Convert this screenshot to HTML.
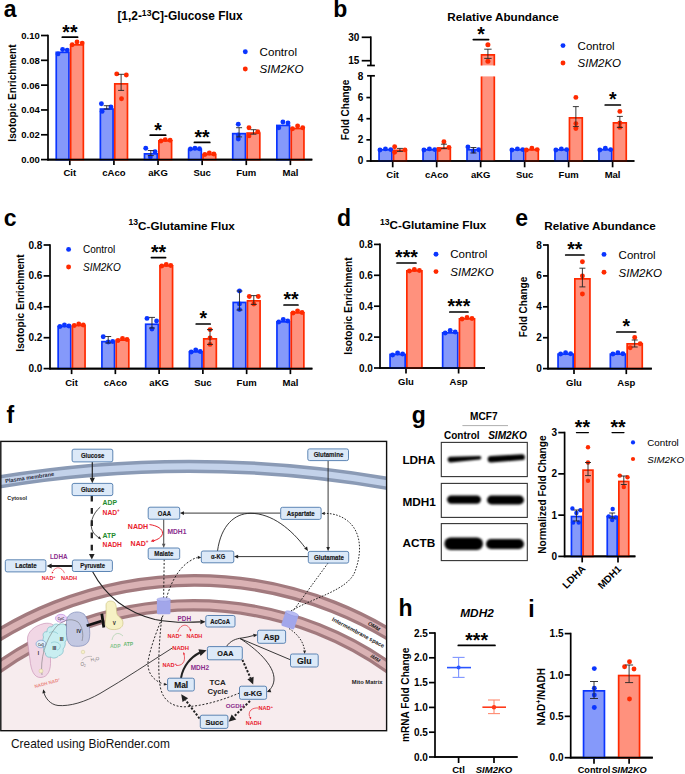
<!DOCTYPE html>
<html><head><meta charset="utf-8"><style>
html,body{margin:0;padding:0;background:#fff;}
svg{display:block;font-family:"Liberation Sans", sans-serif;}
</style></head><body>
<svg width="685" height="774" viewBox="0 0 685 774">
<defs><filter id="blur1" x="-20%" y="-50%" width="140%" height="200%"><feGaussianBlur stdDeviation="0.8"/></filter></defs>
<rect width="685" height="774" fill="#fff"/>
<text x="3.8" y="17" font-size="23" font-weight="bold" font-style="normal" text-anchor="start" fill="#000">a</text>
<text x="180" y="20" font-size="11.9" font-weight="bold" text-anchor="middle">[1,2-<tspan font-size="8.6" dy="-4.2">13</tspan><tspan dy="4.2">C]-Glucose Flux</tspan></text>
<line x1="48" y1="34.65" x2="48" y2="160.45" stroke="#000" stroke-width="1.7"/>
<line x1="41" y1="159.6" x2="48" y2="159.6" stroke="#000" stroke-width="1.7"/>
<text x="39.8" y="163.0" font-size="9.5" font-weight="bold" font-style="normal" text-anchor="end" fill="#000">0.00</text>
<line x1="41" y1="134.78" x2="48" y2="134.78" stroke="#000" stroke-width="1.7"/>
<text x="39.8" y="138.18" font-size="9.5" font-weight="bold" font-style="normal" text-anchor="end" fill="#000">0.02</text>
<line x1="41" y1="109.96" x2="48" y2="109.96" stroke="#000" stroke-width="1.7"/>
<text x="39.8" y="113.36" font-size="9.5" font-weight="bold" font-style="normal" text-anchor="end" fill="#000">0.04</text>
<line x1="41" y1="85.13999999999999" x2="48" y2="85.13999999999999" stroke="#000" stroke-width="1.7"/>
<text x="39.8" y="88.53999999999999" font-size="9.5" font-weight="bold" font-style="normal" text-anchor="end" fill="#000">0.06</text>
<line x1="41" y1="60.31999999999999" x2="48" y2="60.31999999999999" stroke="#000" stroke-width="1.7"/>
<text x="39.8" y="63.71999999999999" font-size="9.5" font-weight="bold" font-style="normal" text-anchor="end" fill="#000">0.08</text>
<line x1="41" y1="35.5" x2="48" y2="35.5" stroke="#000" stroke-width="1.7"/>
<text x="39.8" y="38.9" font-size="9.5" font-weight="bold" font-style="normal" text-anchor="end" fill="#000">0.10</text>
<line x1="48" y1="159.6" x2="312.3" y2="159.6" stroke="#000" stroke-width="1.7"/>
<line x1="69.8" y1="159.6" x2="69.8" y2="165.1" stroke="#000" stroke-width="1.7"/>
<text x="69.8" y="176.4" font-size="9.5" font-weight="bold" font-style="normal" text-anchor="middle" fill="#000">Cit</text>
<line x1="113.91999999999999" y1="159.6" x2="113.91999999999999" y2="165.1" stroke="#000" stroke-width="1.7"/>
<text x="113.91999999999999" y="176.4" font-size="9.5" font-weight="bold" font-style="normal" text-anchor="middle" fill="#000">cAco</text>
<line x1="158.04" y1="159.6" x2="158.04" y2="165.1" stroke="#000" stroke-width="1.7"/>
<text x="158.04" y="176.4" font-size="9.5" font-weight="bold" font-style="normal" text-anchor="middle" fill="#000">aKG</text>
<line x1="202.15999999999997" y1="159.6" x2="202.15999999999997" y2="165.1" stroke="#000" stroke-width="1.7"/>
<text x="202.15999999999997" y="176.4" font-size="9.5" font-weight="bold" font-style="normal" text-anchor="middle" fill="#000">Suc</text>
<line x1="246.27999999999997" y1="159.6" x2="246.27999999999997" y2="165.1" stroke="#000" stroke-width="1.7"/>
<text x="246.27999999999997" y="176.4" font-size="9.5" font-weight="bold" font-style="normal" text-anchor="middle" fill="#000">Fum</text>
<line x1="290.4" y1="159.6" x2="290.4" y2="165.1" stroke="#000" stroke-width="1.7"/>
<text x="290.4" y="176.4" font-size="9.5" font-weight="bold" font-style="normal" text-anchor="middle" fill="#000">Mal</text>
<text x="15.8" y="93" font-size="10.15" font-weight="bold" font-style="normal" text-anchor="middle" fill="#000" transform="rotate(-90 15.8 93)">Isotopic Enrichment</text>
<rect x="56.25" y="52.35" width="12.70" height="107.25" fill="#8599fa" stroke="#0a35ff" stroke-width="1.7"/>
<rect x="70.65" y="44.85" width="12.70" height="114.75" fill="#ff917d" stroke="#ff2a00" stroke-width="1.7"/>
<rect x="100.37" y="109.05" width="12.70" height="50.55" fill="#8599fa" stroke="#0a35ff" stroke-width="1.7"/>
<rect x="114.77" y="83.85" width="12.70" height="75.75" fill="#ff917d" stroke="#ff2a00" stroke-width="1.7"/>
<rect x="144.49" y="153.85" width="12.70" height="5.75" fill="#8599fa" stroke="#0a35ff" stroke-width="1.7"/>
<rect x="158.89" y="140.85" width="12.70" height="18.75" fill="#ff917d" stroke="#ff2a00" stroke-width="1.7"/>
<rect x="188.61" y="149.35" width="12.70" height="10.25" fill="#8599fa" stroke="#0a35ff" stroke-width="1.7"/>
<rect x="203.01" y="154.55" width="12.70" height="5.05" fill="#ff917d" stroke="#ff2a00" stroke-width="1.7"/>
<rect x="232.73" y="133.65" width="12.70" height="25.95" fill="#8599fa" stroke="#0a35ff" stroke-width="1.7"/>
<rect x="247.13" y="133.05" width="12.70" height="26.55" fill="#ff917d" stroke="#ff2a00" stroke-width="1.7"/>
<rect x="276.85" y="125.45" width="12.70" height="34.15" fill="#8599fa" stroke="#0a35ff" stroke-width="1.7"/>
<rect x="291.25" y="128.55" width="12.70" height="31.05" fill="#ff917d" stroke="#ff2a00" stroke-width="1.7"/>
<circle cx="58.00" cy="53.90" r="2.45" fill="#0a35ff"/>
<circle cx="62.60" cy="49.50" r="2.45" fill="#0a35ff"/>
<circle cx="67.20" cy="50.10" r="2.45" fill="#0a35ff"/>
<circle cx="72.20" cy="44.80" r="2.45" fill="#ff2a00"/>
<circle cx="77.00" cy="41.90" r="2.45" fill="#ff2a00"/>
<circle cx="82.20" cy="43.10" r="2.45" fill="#ff2a00"/>
<circle cx="101.42" cy="103.80" r="2.45" fill="#0a35ff"/>
<circle cx="110.92" cy="107.00" r="2.45" fill="#0a35ff"/>
<circle cx="102.12" cy="111.40" r="2.45" fill="#0a35ff"/>
<circle cx="116.72" cy="73.90" r="2.45" fill="#ff2a00"/>
<circle cx="126.32" cy="75.00" r="2.45" fill="#ff2a00"/>
<circle cx="121.52" cy="98.70" r="2.45" fill="#ff2a00"/>
<line x1="106.71999999999998" y1="105.7" x2="106.71999999999998" y2="109" stroke="#222" stroke-width="0.9"/>
<line x1="103.71999999999998" y1="105.7" x2="109.71999999999998" y2="105.7" stroke="#222" stroke-width="0.9"/>
<line x1="103.71999999999998" y1="109" x2="109.71999999999998" y2="109" stroke="#222" stroke-width="0.9"/>
<line x1="121.11999999999999" y1="74.3" x2="121.11999999999999" y2="90.4" stroke="#222" stroke-width="0.9"/>
<line x1="118.11999999999999" y1="74.3" x2="124.11999999999999" y2="74.3" stroke="#222" stroke-width="0.9"/>
<line x1="118.11999999999999" y1="90.4" x2="124.11999999999999" y2="90.4" stroke="#222" stroke-width="0.9"/>
<circle cx="145.74" cy="148.30" r="2.45" fill="#0a35ff"/>
<circle cx="155.04" cy="151.70" r="2.45" fill="#0a35ff"/>
<circle cx="150.34" cy="157.00" r="2.45" fill="#0a35ff"/>
<circle cx="160.94" cy="141.00" r="2.45" fill="#ff2a00"/>
<circle cx="165.24" cy="139.60" r="2.45" fill="#ff2a00"/>
<circle cx="170.14" cy="140.30" r="2.45" fill="#ff2a00"/>
<line x1="150.84" y1="150.5" x2="150.84" y2="155.6" stroke="#222" stroke-width="0.9"/>
<line x1="147.84" y1="150.5" x2="153.84" y2="150.5" stroke="#222" stroke-width="0.9"/>
<line x1="147.84" y1="155.6" x2="153.84" y2="155.6" stroke="#222" stroke-width="0.9"/>
<circle cx="190.46" cy="149.00" r="2.45" fill="#0a35ff"/>
<circle cx="194.96" cy="148.30" r="2.45" fill="#0a35ff"/>
<circle cx="199.46" cy="148.80" r="2.45" fill="#0a35ff"/>
<circle cx="204.86" cy="154.50" r="2.45" fill="#ff2a00"/>
<circle cx="209.36" cy="153.00" r="2.45" fill="#ff2a00"/>
<circle cx="213.86" cy="154.00" r="2.45" fill="#ff2a00"/>
<circle cx="238.28" cy="124.20" r="2.45" fill="#0a35ff"/>
<circle cx="238.28" cy="134.90" r="2.45" fill="#0a35ff"/>
<circle cx="238.28" cy="139.00" r="2.45" fill="#0a35ff"/>
<circle cx="248.98" cy="127.70" r="2.45" fill="#ff2a00"/>
<circle cx="248.98" cy="135.90" r="2.45" fill="#ff2a00"/>
<circle cx="257.78" cy="131.80" r="2.45" fill="#ff2a00"/>
<line x1="239.07999999999998" y1="127.7" x2="239.07999999999998" y2="136.9" stroke="#222" stroke-width="0.9"/>
<line x1="236.07999999999998" y1="127.7" x2="242.07999999999998" y2="127.7" stroke="#222" stroke-width="0.9"/>
<line x1="236.07999999999998" y1="136.9" x2="242.07999999999998" y2="136.9" stroke="#222" stroke-width="0.9"/>
<line x1="253.47999999999996" y1="129.7" x2="253.47999999999996" y2="134.2" stroke="#222" stroke-width="0.9"/>
<line x1="250.47999999999996" y1="129.7" x2="256.47999999999996" y2="129.7" stroke="#222" stroke-width="0.9"/>
<line x1="250.47999999999996" y1="134.2" x2="256.47999999999996" y2="134.2" stroke="#222" stroke-width="0.9"/>
<circle cx="278.80" cy="127.70" r="2.45" fill="#0a35ff"/>
<circle cx="282.90" cy="122.00" r="2.45" fill="#0a35ff"/>
<circle cx="288.00" cy="123.00" r="2.45" fill="#0a35ff"/>
<circle cx="292.50" cy="128.70" r="2.45" fill="#ff2a00"/>
<circle cx="297.60" cy="126.00" r="2.45" fill="#ff2a00"/>
<circle cx="302.70" cy="127.70" r="2.45" fill="#ff2a00"/>
<line x1="62.3" y1="37.2" x2="77.6" y2="37.2" stroke="#000" stroke-width="1.7" stroke-linecap="round"/>
<text x="69.94999999999999" y="38.5" font-size="19.5" font-weight="bold" font-style="normal" text-anchor="middle" fill="#000">**</text>
<line x1="150.2" y1="135.2" x2="165.7" y2="135.2" stroke="#000" stroke-width="1.7" stroke-linecap="round"/>
<text x="157.95" y="136.5" font-size="19.5" font-weight="bold" font-style="normal" text-anchor="middle" fill="#000">*</text>
<line x1="194.4" y1="142.4" x2="209.8" y2="142.4" stroke="#000" stroke-width="1.7" stroke-linecap="round"/>
<text x="202.10000000000002" y="143.7" font-size="19.5" font-weight="bold" font-style="normal" text-anchor="middle" fill="#000">**</text>
<circle cx="245.30" cy="51.70" r="2.45" fill="#0a35ff"/>
<circle cx="245.30" cy="69.00" r="2.45" fill="#ff2a00"/>
<text x="259.6" y="56.0" font-size="11.6" font-weight="normal" font-style="normal" text-anchor="start" fill="#000">Control</text>
<text x="259.6" y="73.3" font-size="11.6" font-weight="normal" font-style="italic" text-anchor="start" fill="#000">SIM2KO</text>
<text x="333.2" y="17" font-size="23" font-weight="bold" font-style="normal" text-anchor="start" fill="#000">b</text>
<text x="503" y="21.3" font-size="11.7" font-weight="bold" font-style="normal" text-anchor="middle" fill="#000">Relative Abundance</text>
<line x1="370.8" y1="36.4" x2="370.8" y2="65.5" stroke="#000" stroke-width="1.7"/>
<line x1="361.7" y1="37.3" x2="370.8" y2="37.3" stroke="#000" stroke-width="1.7"/>
<line x1="361.7" y1="60.7" x2="370.8" y2="60.7" stroke="#000" stroke-width="1.7"/>
<text x="359.4" y="40.7" font-size="10" font-weight="bold" font-style="normal" text-anchor="end" fill="#000">30</text>
<text x="359.4" y="64.1" font-size="10" font-weight="bold" font-style="normal" text-anchor="end" fill="#000">15</text>
<line x1="367.1" y1="65.5" x2="374.9" y2="65.5" stroke="#000" stroke-width="1.7"/>
<line x1="367.1" y1="75.8" x2="374.9" y2="75.8" stroke="#000" stroke-width="1.7"/>
<line x1="370.8" y1="75.8" x2="370.8" y2="161.85" stroke="#000" stroke-width="1.7"/>
<line x1="366.40000000000003" y1="161.0" x2="370.8" y2="161.0" stroke="#000" stroke-width="1.7"/>
<text x="363.3" y="164.4" font-size="10" font-weight="bold" font-style="normal" text-anchor="end" fill="#000">0</text>
<line x1="366.40000000000003" y1="139.85" x2="370.8" y2="139.85" stroke="#000" stroke-width="1.7"/>
<text x="363.3" y="143.25" font-size="10" font-weight="bold" font-style="normal" text-anchor="end" fill="#000">2</text>
<line x1="366.40000000000003" y1="118.7" x2="370.8" y2="118.7" stroke="#000" stroke-width="1.7"/>
<text x="363.3" y="122.10000000000001" font-size="10" font-weight="bold" font-style="normal" text-anchor="end" fill="#000">4</text>
<line x1="366.40000000000003" y1="97.55000000000001" x2="370.8" y2="97.55000000000001" stroke="#000" stroke-width="1.7"/>
<text x="363.3" y="100.95000000000002" font-size="10" font-weight="bold" font-style="normal" text-anchor="end" fill="#000">6</text>
<text x="363.3" y="79.80000000000001" font-size="10" font-weight="bold" font-style="normal" text-anchor="end" fill="#000">8</text>
<line x1="370.8" y1="161" x2="634.4" y2="161" stroke="#000" stroke-width="1.7"/>
<line x1="392.7" y1="161" x2="392.7" y2="167.3" stroke="#000" stroke-width="1.7"/>
<text x="392.7" y="177.6" font-size="9.5" font-weight="bold" font-style="normal" text-anchor="middle" fill="#000">Cit</text>
<line x1="436.68" y1="161" x2="436.68" y2="167.3" stroke="#000" stroke-width="1.7"/>
<text x="436.68" y="177.6" font-size="9.5" font-weight="bold" font-style="normal" text-anchor="middle" fill="#000">cAco</text>
<line x1="480.65999999999997" y1="161" x2="480.65999999999997" y2="167.3" stroke="#000" stroke-width="1.7"/>
<text x="480.65999999999997" y="177.6" font-size="9.5" font-weight="bold" font-style="normal" text-anchor="middle" fill="#000">aKG</text>
<line x1="524.64" y1="161" x2="524.64" y2="167.3" stroke="#000" stroke-width="1.7"/>
<text x="524.64" y="177.6" font-size="9.5" font-weight="bold" font-style="normal" text-anchor="middle" fill="#000">Suc</text>
<line x1="568.62" y1="161" x2="568.62" y2="167.3" stroke="#000" stroke-width="1.7"/>
<text x="568.62" y="177.6" font-size="9.5" font-weight="bold" font-style="normal" text-anchor="middle" fill="#000">Fum</text>
<line x1="612.5999999999999" y1="161" x2="612.5999999999999" y2="167.3" stroke="#000" stroke-width="1.7"/>
<text x="612.5999999999999" y="177.6" font-size="9.5" font-weight="bold" font-style="normal" text-anchor="middle" fill="#000">Mal</text>
<text x="349.2" y="110" font-size="10" font-weight="bold" font-style="normal" text-anchor="middle" fill="#000" transform="rotate(-90 349.2 110)">Fold Change</text>
<rect x="379.05" y="149.75" width="12.80" height="11.25" fill="#8599fa" stroke="#0a35ff" stroke-width="1.7"/>
<rect x="393.55" y="150.35" width="12.80" height="10.65" fill="#ff917d" stroke="#ff2a00" stroke-width="1.7"/>
<rect x="423.03" y="149.75" width="12.80" height="11.25" fill="#8599fa" stroke="#0a35ff" stroke-width="1.7"/>
<rect x="437.53" y="148.05" width="12.80" height="12.95" fill="#ff917d" stroke="#ff2a00" stroke-width="1.7"/>
<rect x="467.01" y="149.75" width="12.80" height="11.25" fill="#8599fa" stroke="#0a35ff" stroke-width="1.7"/>
<rect x="510.99" y="149.75" width="12.80" height="11.25" fill="#8599fa" stroke="#0a35ff" stroke-width="1.7"/>
<rect x="525.49" y="149.85" width="12.80" height="11.15" fill="#ff917d" stroke="#ff2a00" stroke-width="1.7"/>
<rect x="554.97" y="149.75" width="12.80" height="11.25" fill="#8599fa" stroke="#0a35ff" stroke-width="1.7"/>
<rect x="569.47" y="117.85" width="12.80" height="43.15" fill="#ff917d" stroke="#ff2a00" stroke-width="1.7"/>
<rect x="598.95" y="149.75" width="12.80" height="11.25" fill="#8599fa" stroke="#0a35ff" stroke-width="1.7"/>
<rect x="613.45" y="122.85" width="12.80" height="38.15" fill="#ff917d" stroke="#ff2a00" stroke-width="1.7"/>
<circle cx="379.95" cy="150.00" r="2.45" fill="#0a35ff"/>
<circle cx="385.45" cy="148.90" r="2.45" fill="#0a35ff"/>
<circle cx="390.75" cy="149.60" r="2.45" fill="#0a35ff"/>
<circle cx="394.65" cy="146.70" r="2.45" fill="#ff2a00"/>
<circle cx="394.65" cy="152.20" r="2.45" fill="#ff2a00"/>
<circle cx="404.95" cy="149.90" r="2.45" fill="#ff2a00"/>
<line x1="399.95" y1="148.4" x2="399.95" y2="151.4" stroke="#222" stroke-width="0.9"/>
<line x1="396.95" y1="148.4" x2="402.95" y2="148.4" stroke="#222" stroke-width="0.9"/>
<line x1="396.95" y1="151.4" x2="402.95" y2="151.4" stroke="#222" stroke-width="0.9"/>
<circle cx="423.93" cy="150.00" r="2.45" fill="#0a35ff"/>
<circle cx="429.43" cy="148.90" r="2.45" fill="#0a35ff"/>
<circle cx="434.73" cy="149.60" r="2.45" fill="#0a35ff"/>
<circle cx="443.93" cy="141.70" r="2.45" fill="#ff2a00"/>
<circle cx="448.93" cy="147.50" r="2.45" fill="#ff2a00"/>
<circle cx="438.93" cy="149.50" r="2.45" fill="#ff2a00"/>
<line x1="443.93" y1="144.2" x2="443.93" y2="148.7" stroke="#222" stroke-width="0.9"/>
<line x1="440.93" y1="144.2" x2="446.93" y2="144.2" stroke="#222" stroke-width="0.9"/>
<line x1="440.93" y1="148.7" x2="446.93" y2="148.7" stroke="#222" stroke-width="0.9"/>
<circle cx="467.91" cy="147.00" r="2.45" fill="#0a35ff"/>
<circle cx="473.41" cy="151.00" r="2.45" fill="#0a35ff"/>
<circle cx="478.71" cy="149.80" r="2.45" fill="#0a35ff"/>
<line x1="473.40999999999997" y1="147.5" x2="473.40999999999997" y2="153" stroke="#222" stroke-width="0.9"/>
<line x1="470.40999999999997" y1="147.5" x2="476.40999999999997" y2="147.5" stroke="#222" stroke-width="0.9"/>
<line x1="470.40999999999997" y1="153" x2="476.40999999999997" y2="153" stroke="#222" stroke-width="0.9"/>
<circle cx="511.89" cy="150.00" r="2.45" fill="#0a35ff"/>
<circle cx="517.39" cy="148.90" r="2.45" fill="#0a35ff"/>
<circle cx="522.69" cy="149.60" r="2.45" fill="#0a35ff"/>
<circle cx="526.39" cy="150.00" r="2.45" fill="#ff2a00"/>
<circle cx="531.89" cy="148.20" r="2.45" fill="#ff2a00"/>
<circle cx="537.19" cy="149.60" r="2.45" fill="#ff2a00"/>
<circle cx="555.87" cy="150.00" r="2.45" fill="#0a35ff"/>
<circle cx="561.37" cy="148.90" r="2.45" fill="#0a35ff"/>
<circle cx="566.67" cy="149.60" r="2.45" fill="#0a35ff"/>
<circle cx="575.87" cy="97.40" r="2.45" fill="#ff2a00"/>
<circle cx="575.87" cy="123.60" r="2.45" fill="#ff2a00"/>
<circle cx="575.87" cy="128.60" r="2.45" fill="#ff2a00"/>
<line x1="575.87" y1="106.6" x2="575.87" y2="126.6" stroke="#222" stroke-width="0.9"/>
<line x1="572.87" y1="106.6" x2="578.87" y2="106.6" stroke="#222" stroke-width="0.9"/>
<line x1="572.87" y1="126.6" x2="578.87" y2="126.6" stroke="#222" stroke-width="0.9"/>
<circle cx="599.85" cy="150.00" r="2.45" fill="#0a35ff"/>
<circle cx="605.35" cy="148.30" r="2.45" fill="#0a35ff"/>
<circle cx="610.65" cy="149.60" r="2.45" fill="#0a35ff"/>
<circle cx="619.85" cy="111.40" r="2.45" fill="#ff2a00"/>
<circle cx="619.85" cy="127.40" r="2.45" fill="#ff2a00"/>
<circle cx="619.85" cy="123.00" r="2.45" fill="#ff2a00"/>
<line x1="619.8499999999999" y1="116.4" x2="619.8499999999999" y2="127.4" stroke="#222" stroke-width="0.9"/>
<line x1="616.8499999999999" y1="116.4" x2="622.8499999999999" y2="116.4" stroke="#222" stroke-width="0.9"/>
<line x1="616.8499999999999" y1="127.4" x2="622.8499999999999" y2="127.4" stroke="#222" stroke-width="0.9"/>
<rect x="481.51" y="54.10" width="12.80" height="11.30" fill="#ff917d"/>
<path d="M481.51 65.4 V54.95 H494.31 V65.4" fill="none" stroke="#ff2a00" stroke-width="1.7"/>
<rect x="481.51" y="76.40" width="12.80" height="84.60" fill="#ff917d"/>
<path d="M481.51 76.4 V161.00 M494.31 76.4 V161.00" fill="none" stroke="#ff2a00" stroke-width="1.7"/>
<circle cx="487.91" cy="44.70" r="2.5" fill="#ff2a00"/>
<circle cx="487.91" cy="61.20" r="2.5" fill="#ff2a00"/>
<line x1="487.90999999999997" y1="49.2" x2="487.90999999999997" y2="58.4" stroke="#222" stroke-width="0.9"/>
<line x1="484.21" y1="49.2" x2="491.60999999999996" y2="49.2" stroke="#222" stroke-width="0.9"/>
<line x1="484.21" y1="58.4" x2="491.60999999999996" y2="58.4" stroke="#222" stroke-width="0.9"/>
<line x1="473.3" y1="39.6" x2="488.6" y2="39.6" stroke="#000" stroke-width="1.7" stroke-linecap="round"/>
<text x="480.95000000000005" y="41" font-size="19.5" font-weight="bold" font-style="normal" text-anchor="middle" fill="#000">*</text>
<line x1="605.2" y1="105" x2="620.4" y2="105" stroke="#000" stroke-width="1.7" stroke-linecap="round"/>
<text x="612.8" y="106.4" font-size="19.5" font-weight="bold" font-style="normal" text-anchor="middle" fill="#000">*</text>
<circle cx="563.00" cy="45.60" r="2.45" fill="#0a35ff"/>
<circle cx="563.00" cy="63.00" r="2.45" fill="#ff2a00"/>
<text x="577.6" y="49.800000000000004" font-size="11.5" font-weight="normal" font-style="normal" text-anchor="start" fill="#000">Control</text>
<text x="577.6" y="67.2" font-size="11.5" font-weight="normal" font-style="italic" text-anchor="start" fill="#000">SIM2KO</text>
<text x="3.7" y="225.6" font-size="23" font-weight="bold" font-style="normal" text-anchor="start" fill="#000">c</text>
<text x="181.7" y="229.6" font-size="11.7" font-weight="bold" text-anchor="middle"><tspan font-size="8.6" dy="-4.2">13</tspan><tspan dy="4.2">C-Glutamine Flux</tspan></text>
<line x1="50" y1="244.15000000000003" x2="50" y2="369.45000000000005" stroke="#000" stroke-width="1.7"/>
<line x1="43.6" y1="368.6" x2="50" y2="368.6" stroke="#000" stroke-width="1.7"/>
<text x="42.4" y="372.17894736842106" font-size="10" font-weight="bold" font-style="normal" text-anchor="end" fill="#000">0.0</text>
<line x1="43.6" y1="337.70000000000005" x2="50" y2="337.70000000000005" stroke="#000" stroke-width="1.7"/>
<text x="42.4" y="341.2789473684211" font-size="10" font-weight="bold" font-style="normal" text-anchor="end" fill="#000">0.2</text>
<line x1="43.6" y1="306.8" x2="50" y2="306.8" stroke="#000" stroke-width="1.7"/>
<text x="42.4" y="310.37894736842105" font-size="10" font-weight="bold" font-style="normal" text-anchor="end" fill="#000">0.4</text>
<line x1="43.6" y1="275.90000000000003" x2="50" y2="275.90000000000003" stroke="#000" stroke-width="1.7"/>
<text x="42.4" y="279.4789473684211" font-size="10" font-weight="bold" font-style="normal" text-anchor="end" fill="#000">0.6</text>
<line x1="43.6" y1="245.00000000000003" x2="50" y2="245.00000000000003" stroke="#000" stroke-width="1.7"/>
<text x="42.4" y="248.57894736842107" font-size="10" font-weight="bold" font-style="normal" text-anchor="end" fill="#000">0.8</text>
<line x1="50" y1="368.6" x2="312.4" y2="368.6" stroke="#000" stroke-width="1.7"/>
<line x1="71.6" y1="368.6" x2="71.6" y2="374.1" stroke="#000" stroke-width="1.7"/>
<text x="71.6" y="385.6" font-size="9.5" font-weight="bold" font-style="normal" text-anchor="middle" fill="#000">Cit</text>
<line x1="115.35999999999999" y1="368.6" x2="115.35999999999999" y2="374.1" stroke="#000" stroke-width="1.7"/>
<text x="115.35999999999999" y="385.6" font-size="9.5" font-weight="bold" font-style="normal" text-anchor="middle" fill="#000">cAco</text>
<line x1="159.12" y1="368.6" x2="159.12" y2="374.1" stroke="#000" stroke-width="1.7"/>
<text x="159.12" y="385.6" font-size="9.5" font-weight="bold" font-style="normal" text-anchor="middle" fill="#000">aKG</text>
<line x1="202.88" y1="368.6" x2="202.88" y2="374.1" stroke="#000" stroke-width="1.7"/>
<text x="202.88" y="385.6" font-size="9.5" font-weight="bold" font-style="normal" text-anchor="middle" fill="#000">Suc</text>
<line x1="246.64" y1="368.6" x2="246.64" y2="374.1" stroke="#000" stroke-width="1.7"/>
<text x="246.64" y="385.6" font-size="9.5" font-weight="bold" font-style="normal" text-anchor="middle" fill="#000">Fum</text>
<line x1="290.4" y1="368.6" x2="290.4" y2="374.1" stroke="#000" stroke-width="1.7"/>
<text x="290.4" y="385.6" font-size="9.5" font-weight="bold" font-style="normal" text-anchor="middle" fill="#000">Mal</text>
<text x="23.8" y="303" font-size="10.15" font-weight="bold" font-style="normal" text-anchor="middle" fill="#000" transform="rotate(-90 23.8 303)">Isotopic Enrichment</text>
<rect x="58.15" y="326.45" width="12.60" height="42.15" fill="#8599fa" stroke="#0a35ff" stroke-width="1.7"/>
<rect x="72.45" y="325.45" width="12.60" height="43.15" fill="#ff917d" stroke="#ff2a00" stroke-width="1.7"/>
<rect x="101.91" y="341.65" width="12.60" height="26.95" fill="#8599fa" stroke="#0a35ff" stroke-width="1.7"/>
<rect x="116.21" y="340.15" width="12.60" height="28.45" fill="#ff917d" stroke="#ff2a00" stroke-width="1.7"/>
<rect x="145.67" y="324.25" width="12.60" height="44.35" fill="#8599fa" stroke="#0a35ff" stroke-width="1.7"/>
<rect x="159.97" y="265.85" width="12.60" height="102.75" fill="#ff917d" stroke="#ff2a00" stroke-width="1.7"/>
<rect x="189.43" y="351.85" width="12.60" height="16.75" fill="#8599fa" stroke="#0a35ff" stroke-width="1.7"/>
<rect x="203.73" y="338.85" width="12.60" height="29.75" fill="#ff917d" stroke="#ff2a00" stroke-width="1.7"/>
<rect x="233.19" y="302.45" width="12.60" height="66.15" fill="#8599fa" stroke="#0a35ff" stroke-width="1.7"/>
<rect x="247.49" y="300.85" width="12.60" height="67.75" fill="#ff917d" stroke="#ff2a00" stroke-width="1.7"/>
<rect x="276.95" y="321.85" width="12.60" height="46.75" fill="#8599fa" stroke="#0a35ff" stroke-width="1.7"/>
<rect x="291.25" y="312.85" width="12.60" height="55.75" fill="#ff917d" stroke="#ff2a00" stroke-width="1.7"/>
<circle cx="59.95" cy="326.50" r="2.45" fill="#0a35ff"/>
<circle cx="64.45" cy="325.00" r="2.45" fill="#0a35ff"/>
<circle cx="68.95" cy="326.00" r="2.45" fill="#0a35ff"/>
<circle cx="74.25" cy="325.50" r="2.45" fill="#ff2a00"/>
<circle cx="78.75" cy="324.00" r="2.45" fill="#ff2a00"/>
<circle cx="83.25" cy="325.00" r="2.45" fill="#ff2a00"/>
<circle cx="103.21" cy="336.80" r="2.45" fill="#0a35ff"/>
<circle cx="108.21" cy="342.00" r="2.45" fill="#0a35ff"/>
<circle cx="112.71" cy="341.50" r="2.45" fill="#0a35ff"/>
<circle cx="118.01" cy="340.50" r="2.45" fill="#ff2a00"/>
<circle cx="122.51" cy="338.50" r="2.45" fill="#ff2a00"/>
<circle cx="127.01" cy="339.50" r="2.45" fill="#ff2a00"/>
<line x1="108.20999999999998" y1="336.5" x2="108.20999999999998" y2="343" stroke="#222" stroke-width="0.9"/>
<line x1="105.20999999999998" y1="336.5" x2="111.20999999999998" y2="336.5" stroke="#222" stroke-width="0.9"/>
<line x1="105.20999999999998" y1="343" x2="111.20999999999998" y2="343" stroke="#222" stroke-width="0.9"/>
<circle cx="146.97" cy="318.40" r="2.45" fill="#0a35ff"/>
<circle cx="156.57" cy="321.00" r="2.45" fill="#0a35ff"/>
<circle cx="151.97" cy="329.00" r="2.45" fill="#0a35ff"/>
<circle cx="161.77" cy="266.00" r="2.45" fill="#ff2a00"/>
<circle cx="166.27" cy="264.50" r="2.45" fill="#ff2a00"/>
<circle cx="170.77" cy="265.50" r="2.45" fill="#ff2a00"/>
<line x1="151.97" y1="317.4" x2="151.97" y2="328" stroke="#222" stroke-width="0.9"/>
<line x1="148.97" y1="317.4" x2="154.97" y2="317.4" stroke="#222" stroke-width="0.9"/>
<line x1="148.97" y1="328" x2="154.97" y2="328" stroke="#222" stroke-width="0.9"/>
<circle cx="191.23" cy="352.00" r="2.45" fill="#0a35ff"/>
<circle cx="195.73" cy="350.00" r="2.45" fill="#0a35ff"/>
<circle cx="200.23" cy="351.50" r="2.45" fill="#0a35ff"/>
<circle cx="210.03" cy="329.60" r="2.45" fill="#ff2a00"/>
<circle cx="210.03" cy="338.00" r="2.45" fill="#ff2a00"/>
<circle cx="210.03" cy="344.40" r="2.45" fill="#ff2a00"/>
<line x1="210.03" y1="329.6" x2="210.03" y2="344.4" stroke="#222" stroke-width="0.9"/>
<line x1="207.03" y1="329.6" x2="213.03" y2="329.6" stroke="#222" stroke-width="0.9"/>
<line x1="207.03" y1="344.4" x2="213.03" y2="344.4" stroke="#222" stroke-width="0.9"/>
<circle cx="239.49" cy="291.00" r="2.45" fill="#0a35ff"/>
<circle cx="239.49" cy="304.00" r="2.45" fill="#0a35ff"/>
<circle cx="239.49" cy="309.60" r="2.45" fill="#0a35ff"/>
<circle cx="249.29" cy="296.50" r="2.45" fill="#ff2a00"/>
<circle cx="258.29" cy="296.50" r="2.45" fill="#ff2a00"/>
<circle cx="253.79" cy="304.00" r="2.45" fill="#ff2a00"/>
<line x1="239.48999999999998" y1="291" x2="239.48999999999998" y2="310" stroke="#222" stroke-width="0.9"/>
<line x1="236.48999999999998" y1="291" x2="242.48999999999998" y2="291" stroke="#222" stroke-width="0.9"/>
<line x1="236.48999999999998" y1="310" x2="242.48999999999998" y2="310" stroke="#222" stroke-width="0.9"/>
<line x1="253.79" y1="295.6" x2="253.79" y2="304.4" stroke="#222" stroke-width="0.9"/>
<line x1="250.79" y1="295.6" x2="256.78999999999996" y2="295.6" stroke="#222" stroke-width="0.9"/>
<line x1="250.79" y1="304.4" x2="256.78999999999996" y2="304.4" stroke="#222" stroke-width="0.9"/>
<circle cx="278.75" cy="322.00" r="2.45" fill="#0a35ff"/>
<circle cx="283.25" cy="319.50" r="2.45" fill="#0a35ff"/>
<circle cx="287.75" cy="321.00" r="2.45" fill="#0a35ff"/>
<circle cx="293.05" cy="313.00" r="2.45" fill="#ff2a00"/>
<circle cx="297.55" cy="311.00" r="2.45" fill="#ff2a00"/>
<circle cx="302.05" cy="312.50" r="2.45" fill="#ff2a00"/>
<line x1="151.4" y1="257.6" x2="165.6" y2="257.6" stroke="#000" stroke-width="1.7" stroke-linecap="round"/>
<text x="158.5" y="259" font-size="19.5" font-weight="bold" font-style="normal" text-anchor="middle" fill="#000">**</text>
<line x1="196.2" y1="324" x2="210.2" y2="324" stroke="#000" stroke-width="1.7" stroke-linecap="round"/>
<text x="203.2" y="325.4" font-size="19.5" font-weight="bold" font-style="normal" text-anchor="middle" fill="#000">*</text>
<line x1="284" y1="305" x2="298" y2="305" stroke="#000" stroke-width="1.7" stroke-linecap="round"/>
<text x="291.0" y="306.4" font-size="19.5" font-weight="bold" font-style="normal" text-anchor="middle" fill="#000">**</text>
<circle cx="68.60" cy="249.40" r="2.45" fill="#0a35ff"/>
<circle cx="68.60" cy="267.00" r="2.45" fill="#ff2a00"/>
<text x="83.0" y="253.1" font-size="10" font-weight="normal" font-style="normal" text-anchor="start" fill="#000">Control</text>
<text x="83.0" y="270.7" font-size="10" font-weight="normal" font-style="italic" text-anchor="start" fill="#000">SIM2KO</text>
<text x="337" y="226" font-size="23" font-weight="bold" font-style="normal" text-anchor="start" fill="#000">d</text>
<text x="380" y="229.3" font-size="11.7" font-weight="bold" text-anchor="start"><tspan font-size="8.6" dy="-4.2">13</tspan><tspan dy="4.2">C-Glutamine Flux</tspan></text>
<line x1="380" y1="243.55" x2="380" y2="368.85" stroke="#000" stroke-width="1.7"/>
<line x1="374" y1="368.0" x2="380" y2="368.0" stroke="#000" stroke-width="1.7"/>
<text x="372.8" y="371.57894736842104" font-size="10" font-weight="bold" font-style="normal" text-anchor="end" fill="#000">0.0</text>
<line x1="374" y1="337.1" x2="380" y2="337.1" stroke="#000" stroke-width="1.7"/>
<text x="372.8" y="340.67894736842106" font-size="10" font-weight="bold" font-style="normal" text-anchor="end" fill="#000">0.2</text>
<line x1="374" y1="306.2" x2="380" y2="306.2" stroke="#000" stroke-width="1.7"/>
<text x="372.8" y="309.77894736842103" font-size="10" font-weight="bold" font-style="normal" text-anchor="end" fill="#000">0.4</text>
<line x1="374" y1="275.3" x2="380" y2="275.3" stroke="#000" stroke-width="1.7"/>
<text x="372.8" y="278.87894736842105" font-size="10" font-weight="bold" font-style="normal" text-anchor="end" fill="#000">0.6</text>
<line x1="374" y1="244.4" x2="380" y2="244.4" stroke="#000" stroke-width="1.7"/>
<text x="372.8" y="247.97894736842105" font-size="10" font-weight="bold" font-style="normal" text-anchor="end" fill="#000">0.8</text>
<line x1="380" y1="368" x2="485" y2="368" stroke="#000" stroke-width="1.7"/>
<line x1="406" y1="368" x2="406" y2="373.5" stroke="#000" stroke-width="1.7"/>
<text x="406" y="385" font-size="9.5" font-weight="bold" font-style="normal" text-anchor="middle" fill="#000">Glu</text>
<line x1="458.6" y1="368" x2="458.6" y2="373.5" stroke="#000" stroke-width="1.7"/>
<text x="458.6" y="385" font-size="9.5" font-weight="bold" font-style="normal" text-anchor="middle" fill="#000">Asp</text>
<text x="352.4" y="306" font-size="10.15" font-weight="bold" font-style="normal" text-anchor="middle" fill="#000" transform="rotate(-90 352.4 306)">Isotopic Enrichment</text>
<rect x="390.05" y="354.45" width="15.10" height="13.55" fill="#8599fa" stroke="#0a35ff" stroke-width="1.7"/>
<rect x="406.85" y="270.85" width="15.10" height="97.15" fill="#ff917d" stroke="#ff2a00" stroke-width="1.7"/>
<rect x="442.65" y="332.85" width="15.10" height="35.15" fill="#8599fa" stroke="#0a35ff" stroke-width="1.7"/>
<rect x="459.45" y="318.85" width="15.10" height="49.15" fill="#ff917d" stroke="#ff2a00" stroke-width="1.7"/>
<circle cx="392.60" cy="355.00" r="2.45" fill="#0a35ff"/>
<circle cx="397.60" cy="353.00" r="2.45" fill="#0a35ff"/>
<circle cx="402.60" cy="354.00" r="2.45" fill="#0a35ff"/>
<circle cx="409.40" cy="271.00" r="2.45" fill="#ff2a00"/>
<circle cx="414.40" cy="269.50" r="2.45" fill="#ff2a00"/>
<circle cx="419.40" cy="270.50" r="2.45" fill="#ff2a00"/>
<circle cx="445.20" cy="333.00" r="2.45" fill="#0a35ff"/>
<circle cx="450.20" cy="330.50" r="2.45" fill="#0a35ff"/>
<circle cx="455.20" cy="332.00" r="2.45" fill="#0a35ff"/>
<circle cx="462.00" cy="319.00" r="2.45" fill="#ff2a00"/>
<circle cx="467.00" cy="317.50" r="2.45" fill="#ff2a00"/>
<circle cx="472.00" cy="318.50" r="2.45" fill="#ff2a00"/>
<line x1="397" y1="263" x2="416" y2="263" stroke="#000" stroke-width="1.7" stroke-linecap="round"/>
<text x="406.5" y="264.3" font-size="19.5" font-weight="bold" font-style="normal" text-anchor="middle" fill="#000">***</text>
<line x1="449.8" y1="312" x2="468" y2="312" stroke="#000" stroke-width="1.7" stroke-linecap="round"/>
<text x="458.9" y="313.3" font-size="19.5" font-weight="bold" font-style="normal" text-anchor="middle" fill="#000">***</text>
<circle cx="436.00" cy="254.20" r="2.45" fill="#0a35ff"/>
<circle cx="436.00" cy="271.60" r="2.45" fill="#ff2a00"/>
<text x="450.3" y="258.4" font-size="11.5" font-weight="normal" font-style="normal" text-anchor="start" fill="#000">Control</text>
<text x="450.3" y="275.8" font-size="11.5" font-weight="normal" font-style="italic" text-anchor="start" fill="#000">SIM2KO</text>
<text x="515.2" y="225.5" font-size="23" font-weight="bold" font-style="normal" text-anchor="start" fill="#000">e</text>
<text x="600" y="230" font-size="11.7" font-weight="bold" font-style="normal" text-anchor="middle" fill="#000">Relative Abundance</text>
<line x1="548" y1="244.15000000000003" x2="548" y2="369.45000000000005" stroke="#000" stroke-width="1.7"/>
<line x1="543" y1="368.6" x2="548" y2="368.6" stroke="#000" stroke-width="1.7"/>
<text x="541.8" y="372.17894736842106" font-size="10" font-weight="bold" font-style="normal" text-anchor="end" fill="#000">0</text>
<line x1="543" y1="337.70000000000005" x2="548" y2="337.70000000000005" stroke="#000" stroke-width="1.7"/>
<text x="541.8" y="341.2789473684211" font-size="10" font-weight="bold" font-style="normal" text-anchor="end" fill="#000">2</text>
<line x1="543" y1="306.8" x2="548" y2="306.8" stroke="#000" stroke-width="1.7"/>
<text x="541.8" y="310.37894736842105" font-size="10" font-weight="bold" font-style="normal" text-anchor="end" fill="#000">4</text>
<line x1="543" y1="275.90000000000003" x2="548" y2="275.90000000000003" stroke="#000" stroke-width="1.7"/>
<text x="541.8" y="279.4789473684211" font-size="10" font-weight="bold" font-style="normal" text-anchor="end" fill="#000">6</text>
<line x1="543" y1="245.00000000000003" x2="548" y2="245.00000000000003" stroke="#000" stroke-width="1.7"/>
<text x="541.8" y="248.57894736842107" font-size="10" font-weight="bold" font-style="normal" text-anchor="end" fill="#000">8</text>
<line x1="548" y1="368.6" x2="651.8" y2="368.6" stroke="#000" stroke-width="1.7"/>
<line x1="574" y1="368.6" x2="574" y2="374.1" stroke="#000" stroke-width="1.7"/>
<text x="574" y="385.5" font-size="9.5" font-weight="bold" font-style="normal" text-anchor="middle" fill="#000">Glu</text>
<line x1="626.3" y1="368.6" x2="626.3" y2="374.1" stroke="#000" stroke-width="1.7"/>
<text x="626.3" y="385.5" font-size="9.5" font-weight="bold" font-style="normal" text-anchor="middle" fill="#000">Asp</text>
<text x="527.4" y="307" font-size="10" font-weight="bold" font-style="normal" text-anchor="middle" fill="#000" transform="rotate(-90 527.4 307)">Fold Change</text>
<rect x="558.05" y="354.15" width="15.10" height="14.45" fill="#8599fa" stroke="#0a35ff" stroke-width="1.7"/>
<rect x="574.85" y="278.85" width="15.10" height="89.75" fill="#ff917d" stroke="#ff2a00" stroke-width="1.7"/>
<rect x="610.35" y="354.15" width="15.10" height="14.45" fill="#8599fa" stroke="#0a35ff" stroke-width="1.7"/>
<rect x="627.15" y="343.85" width="15.10" height="24.75" fill="#ff917d" stroke="#ff2a00" stroke-width="1.7"/>
<circle cx="560.60" cy="354.00" r="2.45" fill="#0a35ff"/>
<circle cx="565.60" cy="352.80" r="2.45" fill="#0a35ff"/>
<circle cx="570.60" cy="353.80" r="2.45" fill="#0a35ff"/>
<circle cx="582.40" cy="261.80" r="2.45" fill="#ff2a00"/>
<circle cx="582.40" cy="276.00" r="2.45" fill="#ff2a00"/>
<circle cx="582.40" cy="294.00" r="2.45" fill="#ff2a00"/>
<line x1="582.4" y1="268.2" x2="582.4" y2="286.9" stroke="#222" stroke-width="0.9"/>
<line x1="579.4" y1="268.2" x2="585.4" y2="268.2" stroke="#222" stroke-width="0.9"/>
<line x1="579.4" y1="286.9" x2="585.4" y2="286.9" stroke="#222" stroke-width="0.9"/>
<circle cx="612.90" cy="354.00" r="2.45" fill="#0a35ff"/>
<circle cx="617.90" cy="352.80" r="2.45" fill="#0a35ff"/>
<circle cx="622.90" cy="353.80" r="2.45" fill="#0a35ff"/>
<circle cx="634.70" cy="337.50" r="2.45" fill="#ff2a00"/>
<circle cx="630.20" cy="347.70" r="2.45" fill="#ff2a00"/>
<circle cx="640.20" cy="343.80" r="2.45" fill="#ff2a00"/>
<line x1="634.6999999999999" y1="340" x2="634.6999999999999" y2="347" stroke="#222" stroke-width="0.9"/>
<line x1="631.6999999999999" y1="340" x2="637.6999999999999" y2="340" stroke="#222" stroke-width="0.9"/>
<line x1="631.6999999999999" y1="347" x2="637.6999999999999" y2="347" stroke="#222" stroke-width="0.9"/>
<line x1="565.7" y1="255" x2="584" y2="255" stroke="#000" stroke-width="1.7" stroke-linecap="round"/>
<text x="574.85" y="256.4" font-size="19.5" font-weight="bold" font-style="normal" text-anchor="middle" fill="#000">**</text>
<line x1="616.8" y1="332" x2="635.7" y2="332" stroke="#000" stroke-width="1.7" stroke-linecap="round"/>
<text x="626.25" y="333.4" font-size="19.5" font-weight="bold" font-style="normal" text-anchor="middle" fill="#000">*</text>
<circle cx="604.00" cy="254.40" r="2.45" fill="#0a35ff"/>
<circle cx="604.00" cy="272.30" r="2.45" fill="#ff2a00"/>
<text x="618.6" y="258.6" font-size="11.5" font-weight="normal" font-style="normal" text-anchor="start" fill="#000">Control</text>
<text x="618.6" y="276.5" font-size="11.5" font-weight="normal" font-style="italic" text-anchor="start" fill="#000">SIM2KO</text>
<text x="411.7" y="422.5" font-size="23" font-weight="bold" font-style="normal" text-anchor="start" fill="#000">g</text>
<text x="483.8" y="420" font-size="10.1" font-weight="bold" font-style="normal" text-anchor="middle" fill="#000">MCF7</text>
<line x1="462.4" y1="425.6" x2="508" y2="425.6" stroke="#999" stroke-width="0.8"/>
<text x="461.8" y="439.4" font-size="10" font-weight="bold" font-style="normal" text-anchor="middle" fill="#000">Control</text>
<text x="507.5" y="439.4" font-size="10.1" font-weight="bold" font-style="italic" text-anchor="middle" fill="#000">SIM2KO</text>
<rect x="441.3" y="442.4" width="86" height="34.200000000000045" fill="#fff" stroke="#333" stroke-width="1.1"/>
<text x="402.4" y="464" font-size="11.8" font-weight="bold" font-style="normal" text-anchor="start" fill="#000">LDHA</text>
<rect x="441.3" y="483.4" width="86" height="34.0" fill="#fff" stroke="#333" stroke-width="1.1"/>
<text x="402.4" y="505.6" font-size="11.8" font-weight="bold" font-style="normal" text-anchor="start" fill="#000">MDH1</text>
<rect x="441.3" y="523.6" width="86" height="37.0" fill="#fff" stroke="#333" stroke-width="1.1"/>
<text x="402.4" y="547" font-size="11.8" font-weight="bold" font-style="normal" text-anchor="start" fill="#000">ACTB</text>
<path d="M450.5 456.8 L479.5 456.0 A1.8 1.8 0 0 1 479.5 459.6 L450.5 462.40000000000003 A2.8 2.8 0 0 1 450.5 456.8 Z" fill="#000" filter="url(#blur1)"/>
<path d="M491 455.9 L522 454.3 A2.9 2.9 0 0 1 522 460.09999999999997 L491 462.5 A3.3 3.3 0 0 1 491 455.9 Z" fill="#000" filter="url(#blur1)"/>
<rect x="447.0" y="495.4" width="34.0" height="8.4" rx="4.2" ry="4.2" fill="#000" filter="url(#blur1)"/>
<rect x="487.0" y="495.6" width="37.0" height="8.8" rx="4.4" ry="4.4" fill="#000" filter="url(#blur1)"/>
<rect x="444.4" y="537.5" width="38.6" height="12.5" rx="6.2" ry="6.2" fill="#000" filter="url(#blur1)"/>
<rect x="486.0" y="538.9" width="38.0" height="10.2" rx="5.1" ry="5.1" fill="#000" filter="url(#blur1)"/>
<line x1="564.6" y1="431.73999999999995" x2="564.6" y2="557.25" stroke="#000" stroke-width="1.7"/>
<line x1="558.3000000000001" y1="556.4" x2="564.6" y2="556.4" stroke="#000" stroke-width="1.7"/>
<text x="557.1" y="559.978947368421" font-size="10" font-weight="bold" font-style="normal" text-anchor="end" fill="#000">0</text>
<line x1="558.3000000000001" y1="515.13" x2="564.6" y2="515.13" stroke="#000" stroke-width="1.7"/>
<text x="557.1" y="518.708947368421" font-size="10" font-weight="bold" font-style="normal" text-anchor="end" fill="#000">1</text>
<line x1="558.3000000000001" y1="473.85999999999996" x2="564.6" y2="473.85999999999996" stroke="#000" stroke-width="1.7"/>
<text x="557.1" y="477.438947368421" font-size="10" font-weight="bold" font-style="normal" text-anchor="end" fill="#000">2</text>
<line x1="558.3000000000001" y1="432.59" x2="564.6" y2="432.59" stroke="#000" stroke-width="1.7"/>
<text x="557.1" y="436.168947368421" font-size="10" font-weight="bold" font-style="normal" text-anchor="end" fill="#000">3</text>
<line x1="564.6" y1="556.4" x2="635.4" y2="556.4" stroke="#000" stroke-width="1.7"/>
<line x1="582.2" y1="556.4" x2="582.2" y2="562.4" stroke="#000" stroke-width="1.7"/>
<line x1="618" y1="556.4" x2="618" y2="562.4" stroke="#000" stroke-width="1.7"/>
<text x="586.2" y="569.5" font-size="10" font-weight="bold" font-style="normal" text-anchor="end" fill="#000" transform="rotate(-45 586.2 569.5)">LDHA</text>
<text x="622" y="569.5" font-size="10" font-weight="bold" font-style="normal" text-anchor="end" fill="#000" transform="rotate(-45 622 569.5)">MDH1</text>
<text x="546.5" y="494.6" font-size="10.1" font-weight="bold" font-style="normal" text-anchor="middle" fill="#000" transform="rotate(-90 546.5 494.6)">Normalized Fold Change</text>
<rect x="571.45" y="516.55" width="9.90" height="39.85" fill="#8599fa" stroke="#0a35ff" stroke-width="1.7"/>
<rect x="583.05" y="470.15" width="9.90" height="86.25" fill="#ff917d" stroke="#ff2a00" stroke-width="1.7"/>
<rect x="607.25" y="516.55" width="9.90" height="39.85" fill="#8599fa" stroke="#0a35ff" stroke-width="1.7"/>
<rect x="618.85" y="481.45" width="9.90" height="74.95" fill="#ff917d" stroke="#ff2a00" stroke-width="1.7"/>
<circle cx="572.40" cy="508.50" r="2.2" fill="#0a35ff"/>
<circle cx="580.40" cy="510.30" r="2.2" fill="#0a35ff"/>
<circle cx="576.40" cy="513.00" r="2.2" fill="#0a35ff"/>
<circle cx="573.10" cy="522.50" r="2.2" fill="#0a35ff"/>
<circle cx="578.70" cy="522.50" r="2.2" fill="#0a35ff"/>
<circle cx="588.00" cy="447.30" r="2.2" fill="#ff2a00"/>
<circle cx="588.00" cy="462.50" r="2.2" fill="#ff2a00"/>
<circle cx="588.00" cy="480.80" r="2.2" fill="#ff2a00"/>
<line x1="576.4000000000001" y1="510" x2="576.4000000000001" y2="521" stroke="#222" stroke-width="0.9"/>
<line x1="573.4000000000001" y1="510" x2="579.4000000000001" y2="510" stroke="#222" stroke-width="0.9"/>
<line x1="573.4000000000001" y1="521" x2="579.4000000000001" y2="521" stroke="#222" stroke-width="0.9"/>
<line x1="588.0" y1="462.5" x2="588.0" y2="475.6" stroke="#222" stroke-width="0.9"/>
<line x1="585.0" y1="462.5" x2="591.0" y2="462.5" stroke="#222" stroke-width="0.9"/>
<line x1="585.0" y1="475.6" x2="591.0" y2="475.6" stroke="#222" stroke-width="0.9"/>
<circle cx="612.70" cy="509.00" r="2.2" fill="#0a35ff"/>
<circle cx="608.70" cy="516.40" r="2.2" fill="#0a35ff"/>
<circle cx="615.70" cy="517.50" r="2.2" fill="#0a35ff"/>
<circle cx="612.20" cy="520.00" r="2.2" fill="#0a35ff"/>
<circle cx="619.80" cy="475.60" r="2.2" fill="#ff2a00"/>
<circle cx="627.50" cy="477.20" r="2.2" fill="#ff2a00"/>
<circle cx="623.80" cy="487.00" r="2.2" fill="#ff2a00"/>
<line x1="612.2" y1="513" x2="612.2" y2="518" stroke="#222" stroke-width="0.9"/>
<line x1="609.2" y1="513" x2="615.2" y2="513" stroke="#222" stroke-width="0.9"/>
<line x1="609.2" y1="518" x2="615.2" y2="518" stroke="#222" stroke-width="0.9"/>
<line x1="623.8" y1="476" x2="623.8" y2="484.5" stroke="#222" stroke-width="0.9"/>
<line x1="620.8" y1="476" x2="626.8" y2="476" stroke="#222" stroke-width="0.9"/>
<line x1="620.8" y1="484.5" x2="626.8" y2="484.5" stroke="#222" stroke-width="0.9"/>
<line x1="576.4" y1="432.6" x2="588.4" y2="432.6" stroke="#000" stroke-width="1.2" stroke-linecap="round"/>
<text x="582.4" y="434" font-size="19.5" font-weight="bold" font-style="normal" text-anchor="middle" fill="#000">**</text>
<line x1="612" y1="432.6" x2="624" y2="432.6" stroke="#000" stroke-width="1.2" stroke-linecap="round"/>
<text x="618.0" y="434" font-size="19.5" font-weight="bold" font-style="normal" text-anchor="middle" fill="#000">**</text>
<circle cx="633.00" cy="442.40" r="2.1" fill="#0a35ff"/>
<circle cx="633.00" cy="459.00" r="2.1" fill="#ff2a00"/>
<text x="647.2" y="446.4" font-size="9.8" font-weight="normal" font-style="normal" text-anchor="start" fill="#000">Control</text>
<text x="647.2" y="463" font-size="9.8" font-weight="normal" font-style="italic" text-anchor="start" fill="#000">SIM2KO</text>
<text x="398.4" y="615.9" font-size="23" font-weight="bold" font-style="normal" text-anchor="start" fill="#000">h</text>
<text x="477" y="617" font-size="11.8" font-weight="bold" font-style="italic" text-anchor="middle" fill="#000">MDH2</text>
<line x1="435" y1="632.15" x2="435" y2="757.85" stroke="#000" stroke-width="1.7"/>
<line x1="429" y1="757.0" x2="435" y2="757.0" stroke="#000" stroke-width="1.7"/>
<text x="427.8" y="760.578947368421" font-size="10" font-weight="bold" font-style="normal" text-anchor="end" fill="#000">0.0</text>
<line x1="429" y1="732.2" x2="435" y2="732.2" stroke="#000" stroke-width="1.7"/>
<text x="427.8" y="735.7789473684211" font-size="10" font-weight="bold" font-style="normal" text-anchor="end" fill="#000">0.5</text>
<line x1="429" y1="707.4" x2="435" y2="707.4" stroke="#000" stroke-width="1.7"/>
<text x="427.8" y="710.978947368421" font-size="10" font-weight="bold" font-style="normal" text-anchor="end" fill="#000">1.0</text>
<line x1="429" y1="682.6" x2="435" y2="682.6" stroke="#000" stroke-width="1.7"/>
<text x="427.8" y="686.1789473684211" font-size="10" font-weight="bold" font-style="normal" text-anchor="end" fill="#000">1.5</text>
<line x1="429" y1="657.8" x2="435" y2="657.8" stroke="#000" stroke-width="1.7"/>
<text x="427.8" y="661.378947368421" font-size="10" font-weight="bold" font-style="normal" text-anchor="end" fill="#000">2.0</text>
<line x1="429" y1="633.0" x2="435" y2="633.0" stroke="#000" stroke-width="1.7"/>
<text x="427.8" y="636.578947368421" font-size="10" font-weight="bold" font-style="normal" text-anchor="end" fill="#000">2.5</text>
<line x1="435" y1="757" x2="517.6" y2="757" stroke="#000" stroke-width="1.7"/>
<line x1="458.6" y1="757" x2="458.6" y2="763" stroke="#000" stroke-width="1.7"/>
<text x="458.6" y="773" font-size="9.5" font-weight="bold" font-style="normal" text-anchor="middle" fill="#000">Ctl</text>
<line x1="494" y1="757" x2="494" y2="763" stroke="#000" stroke-width="1.7"/>
<text x="494" y="773" font-size="9.5" font-weight="bold" font-style="italic" text-anchor="middle" fill="#000">SIM2KO</text>
<text x="408.6" y="694.8" font-size="10.1" font-weight="bold" font-style="normal" text-anchor="middle" fill="#000" transform="rotate(-90 408.6 694.8)">mRNA Fold Change</text>
<line x1="458.6" y1="657.4" x2="458.6" y2="677.4" stroke="#7f95ff" stroke-width="1.1"/>
<line x1="452.6" y1="657.4" x2="464.6" y2="657.4" stroke="#7f95ff" stroke-width="1.1"/>
<line x1="452.6" y1="677.4" x2="464.6" y2="677.4" stroke="#7f95ff" stroke-width="1.1"/>
<line x1="447" y1="667.6" x2="471" y2="667.6" stroke="#2a55ff" stroke-width="1.6"/>
<circle cx="458.60" cy="667.60" r="2" fill="#2a55ff"/>
<line x1="494" y1="700" x2="494" y2="713.6" stroke="#ff8a70" stroke-width="1.1"/>
<line x1="488" y1="700" x2="500" y2="700" stroke="#ff8a70" stroke-width="1.1"/>
<line x1="488" y1="713.6" x2="500" y2="713.6" stroke="#ff8a70" stroke-width="1.1"/>
<line x1="482.4" y1="707.2" x2="506" y2="707.2" stroke="#ff3a1a" stroke-width="1.6"/>
<circle cx="494.00" cy="707.20" r="2.2" fill="#ff3a1a"/>
<line x1="458.3" y1="645.4" x2="495" y2="645.4" stroke="#000" stroke-width="1.7" stroke-linecap="round"/>
<text x="476.65" y="646.8" font-size="19.5" font-weight="bold" font-style="normal" text-anchor="middle" fill="#000">***</text>
<text x="528.2" y="616.7" font-size="23" font-weight="bold" font-style="normal" text-anchor="start" fill="#000">i</text>
<line x1="570.7" y1="632.74" x2="570.7" y2="758.5500000000001" stroke="#000" stroke-width="1.7"/>
<line x1="564.7" y1="757.7" x2="570.7" y2="757.7" stroke="#000" stroke-width="1.7"/>
<text x="563.5" y="761.2789473684211" font-size="10" font-weight="bold" font-style="normal" text-anchor="end" fill="#000">0.0</text>
<line x1="564.7" y1="716.33" x2="570.7" y2="716.33" stroke="#000" stroke-width="1.7"/>
<text x="563.5" y="719.9089473684211" font-size="10" font-weight="bold" font-style="normal" text-anchor="end" fill="#000">0.5</text>
<line x1="564.7" y1="674.96" x2="570.7" y2="674.96" stroke="#000" stroke-width="1.7"/>
<text x="563.5" y="678.5389473684211" font-size="10" font-weight="bold" font-style="normal" text-anchor="end" fill="#000">1.0</text>
<line x1="564.7" y1="633.59" x2="570.7" y2="633.59" stroke="#000" stroke-width="1.7"/>
<text x="563.5" y="637.1689473684211" font-size="10" font-weight="bold" font-style="normal" text-anchor="end" fill="#000">1.5</text>
<line x1="570.7" y1="757.7" x2="652.8" y2="757.7" stroke="#000" stroke-width="1.7"/>
<line x1="594" y1="757.7" x2="594" y2="763.7" stroke="#000" stroke-width="1.7"/>
<text x="594" y="773.2" font-size="9.2" font-weight="bold" font-style="normal" text-anchor="middle" fill="#000">Control</text>
<line x1="629.1" y1="757.7" x2="629.1" y2="763.7" stroke="#000" stroke-width="1.7"/>
<text x="629.1" y="773.2" font-size="9.2" font-weight="bold" font-style="italic" text-anchor="middle" fill="#000">SIM2KO</text>
<text x="544.6" y="696.7" font-size="10" font-weight="bold" text-anchor="middle" transform="rotate(-90 544.6 696.7)">NAD<tspan font-size="7" dy="-3.5">+</tspan><tspan dy="3.5">/NADH</tspan></text>
<rect x="583.55" y="690.85" width="20.90" height="66.85" fill="#8599fa" stroke="#0a35ff" stroke-width="1.7"/>
<rect x="618.65" y="675.55" width="20.90" height="82.15" fill="#ff917d" stroke="#ff2a00" stroke-width="1.7"/>
<circle cx="594.30" cy="668.60" r="2.45" fill="#0a35ff"/>
<circle cx="594.30" cy="688.30" r="2.45" fill="#0a35ff"/>
<circle cx="594.30" cy="695.00" r="2.45" fill="#0a35ff"/>
<circle cx="594.30" cy="707.50" r="2.45" fill="#0a35ff"/>
<circle cx="629.50" cy="661.80" r="2.45" fill="#ff2a00"/>
<circle cx="624.60" cy="666.80" r="2.45" fill="#ff2a00"/>
<circle cx="634.00" cy="669.00" r="2.45" fill="#ff2a00"/>
<circle cx="629.50" cy="699.00" r="2.45" fill="#ff2a00"/>
<line x1="594" y1="681.5" x2="594" y2="698.5" stroke="#222" stroke-width="0.9"/>
<line x1="590.0" y1="681.5" x2="598.0" y2="681.5" stroke="#222" stroke-width="0.9"/>
<line x1="590.0" y1="698.5" x2="598.0" y2="698.5" stroke="#222" stroke-width="0.9"/>
<line x1="629.1" y1="665" x2="629.1" y2="682.6" stroke="#222" stroke-width="0.9"/>
<line x1="625.1" y1="665" x2="633.1" y2="665" stroke="#222" stroke-width="0.9"/>
<line x1="625.1" y1="682.6" x2="633.1" y2="682.6" stroke="#222" stroke-width="0.9"/>
<text x="6.5" y="422.6" font-size="23" font-weight="bold" font-style="normal" text-anchor="start" fill="#000">f</text>
<clipPath id="fclip"><rect x="0.8" y="441.4" width="385.8" height="289.30000000000007"/></clipPath>
<g clip-path="url(#fclip)">
<circle cx="193.5" cy="942.9" r="331.6" fill="#f7ecee"/>
<circle cx="193.5" cy="942.9" r="337.6" fill="none" stroke="#a27a7e" stroke-width="12.4"/>
<circle cx="193.5" cy="942.9" r="337.6" fill="none" stroke="#dab2b4" stroke-width="6.1"/>
<circle cx="194.4" cy="957.4" r="377.1" fill="none" stroke="#a27a7e" stroke-width="12.8"/>
<circle cx="194.4" cy="957.4" r="377.1" fill="none" stroke="#dab2b4" stroke-width="6.2"/>
<circle cx="189" cy="1616.6" r="1150.3" fill="none" stroke="#8a9ab5" stroke-width="13.2"/>
<circle cx="189" cy="1616.6" r="1150.3" fill="none" stroke="#c3d2ea" stroke-width="6.2"/>
</g>
<rect x="0.8" y="441.4" width="385.8" height="289.30000000000007" fill="none" stroke="#111" stroke-width="1.4"/>
<line x1="92.3" y1="461.9" x2="92.3" y2="478.5" stroke="#222" stroke-width="1.2"/>
<path d="M92.30 483.20 L89.70 477.70 L94.90 477.70 Z" fill="#222"/>
<line x1="91.8" y1="495.6" x2="91.8" y2="553.8" stroke="#222" stroke-width="2.3" stroke-dasharray="5.8 6.5"/>
<path d="M91.80 559.60 L89.00 554.10 L94.60 554.10 Z" fill="#222"/>
<path d="M100.3 507 C92 514 89 525 93 532 C95 535 97.5 537 99.6 538" fill="none" stroke="#222" stroke-width="0.8"/>
<path d="M101.20 539.40 L97.91 538.34 L99.58 536.35 Z" fill="#222"/>
<line x1="72.2" y1="566" x2="50.5" y2="566" stroke="#222" stroke-width="2.0"/>
<path d="M46.60 566.00 L51.60 563.50 L51.60 568.50 Z" fill="#222"/>
<path d="M64.5 573.2 C62 567 56 566 53 571" fill="none" stroke="#e8202c" stroke-width="0.6"/>
<path d="M51.80 573.80 L51.87 571.40 L53.59 572.21 Z" fill="#e8202c"/>
<line x1="163.7" y1="519.2" x2="163.7" y2="544" stroke="#555" stroke-width="1.1"/>
<path d="M163.70 548.00 L161.90 543.80 L165.50 543.80 Z" fill="#555"/>
<path d="M149.5 524.6 C157 525.5 163 529 162.5 533.5 C162 537 158 539.5 153.5 540.8" fill="none" stroke="#e8202c" stroke-width="1.0"/>
<path d="M150.60 541.60 L153.25 538.93 L154.34 541.94 Z" fill="#e8202c"/>
<line x1="280.7" y1="513.1" x2="184" y2="513.1" stroke="#222" stroke-width="0.9"/>
<path d="M179.80 513.10 L184.00 511.30 L184.00 514.90 Z" fill="#222"/>
<line x1="308.3" y1="556.6" x2="238" y2="556.6" stroke="#222" stroke-width="0.9"/>
<path d="M233.90 556.60 L238.10 554.80 L238.10 558.40 Z" fill="#222"/>
<path d="M217.5 551 C221 525 235 513.5 250 513.3 C272 513 292 530 305 547.5" fill="none" stroke="#222" stroke-width="0.9"/>
<path d="M308.00 551.00 L304.12 548.59 L307.07 546.53 Z" fill="#222"/>
<line x1="328.1" y1="460.6" x2="328.1" y2="547" stroke="#222" stroke-width="0.9"/>
<path d="M328.10 551.20 L326.30 547.00 L329.90 547.00 Z" fill="#222"/>
<path d="M291 611 C312 598 350 590 355.5 570 C362 552 362 530 345 519 C338 514.5 331 513.4 325 513.4" fill="none" stroke="#111" stroke-width="0.9" stroke-dasharray="1.6 1.5"/>
<path d="M321.30 513.40 L324.80 511.80 L324.80 515.00 Z" fill="#222"/>
<path d="M328 563.1 L293 611" fill="none" stroke="#111" stroke-width="0.9" stroke-dasharray="1.6 1.5"/>
<path d="M289 628.5 C296 633 303 640 304.5 650" fill="none" stroke="#111" stroke-width="0.9" stroke-dasharray="1.6 1.5"/>
<path d="M304.60 654.00 L303.10 650.60 L306.10 650.60 Z" fill="#222"/>
<path d="M164.2 559.3 L163.6 598.4" fill="none" stroke="#111" stroke-width="0.9" stroke-dasharray="2 1.7"/>
<path d="M163 615.5 C158 628 150 648 148 662 C147.5 672 152 680 163.5 684" fill="none" stroke="#111" stroke-width="0.9" stroke-dasharray="2 1.7"/>
<path d="M167.40 684.80 L163.76 685.56 L164.39 682.63 Z" fill="#222"/>
<path d="M239.5 693 C225 699 205 706 185 706.8 C172 707 163 700 160.5 688 C158 676 158 650 162 616" fill="none" stroke="#111" stroke-width="0.9" stroke-dasharray="2 1.7"/>
<path d="M166.5 598 C170 585 178 568 190 561 C193 559 195 558 197.5 557.6" fill="none" stroke="#111" stroke-width="0.9" stroke-dasharray="2 1.7"/>
<path d="M201.40 557.40 L197.80 559.00 L197.80 555.80 Z" fill="#222"/>
<path d="M92.5 571.5 C105 595 125 612 155 619.5 C170 622.5 185 622.8 200.5 621.9" fill="none" stroke="#222" stroke-width="1.1"/>
<path d="M205.60 621.70 L200.48 624.18 L200.32 619.58 Z" fill="#222"/>
<path d="M177.8 631.9 C180 625 187 622 190.5 630" fill="none" stroke="#e8202c" stroke-width="0.7"/>
<path d="M190.80 631.70 L189.30 629.53 L191.47 629.15 Z" fill="#e8202c"/>
<path d="M176 665.5 C182 666 186 662 184 654" fill="none" stroke="#e8202c" stroke-width="0.7"/>
<path d="M183.60 652.00 L185.10 654.17 L182.93 654.55 Z" fill="#e8202c"/>
<path d="M181 678 C183 666 191 657 200 652.5" fill="none" stroke="#222" stroke-width="2.0"/>
<path d="M206.60 650.30 L200.55 655.95 L198.39 649.29 Z" fill="#222"/>
<path d="M242.4 659.8 L250.5 678" fill="none" stroke="#222" stroke-width="2.0" stroke-dasharray="2.2 1.6"/>
<path d="M253.20 684.60 L247.35 679.20 L253.66 676.65 Z" fill="#222"/>
<path d="M250 701 L234 716.5" fill="none" stroke="#222" stroke-width="2.0" stroke-dasharray="2.2 1.6"/>
<path d="M228.60 721.80 L231.68 714.46 L236.23 719.51 Z" fill="#222"/>
<path d="M199.5 718.5 L185.5 700" fill="none" stroke="#222" stroke-width="2.0" stroke-dasharray="2.2 1.6"/>
<path d="M181.20 694.20 L188.11 698.15 L182.54 702.05 Z" fill="#222"/>
<path d="M258.5 708 C252 707.5 248 711 249.5 716.5" fill="none" stroke="#e8202c" stroke-width="0.7"/>
<path d="M251.00 719.50 L249.15 717.62 L251.21 716.87 Z" fill="#e8202c"/>
<path d="M226.4 646.6 C230 641 236 638.5 242 638 C246 637.5 250 636.5 253.5 635.5" fill="none" stroke="#222" stroke-width="0.9"/>
<path d="M257.60 634.80 L253.78 637.30 L253.15 633.76 Z" fill="#222"/>
<path d="M240 638.5 L290.5 659.8" fill="none" stroke="#222" stroke-width="0.9"/>
<path d="M240 638.5 C255 648 275 665 274 680 C273.5 686 270 690 268 691" fill="none" stroke="#222" stroke-width="0.9"/>
<path d="M266.70 692.00 L270.03 688.87 L271.26 692.25 Z" fill="#222"/>
<path d="M172.3 648 C150 662 125 679 100 693.5 C85 702 70 706.5 58 705.5 C50 704.5 45.5 698 44 693" fill="none" stroke="#222" stroke-width="0.85"/>
<path d="M43.20 689.30 L45.71 692.62 L42.40 693.39 Z" fill="#222"/>
<g transform="rotate(0 163.7 606.6)"><rect x="156.89999999999998" y="599.0" width="13.6" height="15.2" rx="1.5" fill="#a2a6ea"/><ellipse cx="163.7" cy="599.4" rx="6.8" ry="1.8" fill="#b9bdf3" stroke="#8c90dc" stroke-width="0.4"/></g>
<g transform="rotate(18 289.8 620.4)"><rect x="283.0" y="612.8" width="13.6" height="15.2" rx="1.5" fill="#a2a6ea"/><ellipse cx="289.8" cy="613.1999999999999" rx="6.8" ry="1.8" fill="#b9bdf3" stroke="#8c90dc" stroke-width="0.4"/></g>
<path d="M27.5 640 C27 632 34 626 44 623.5 C52 622 58 626 55 634 C52 642 50 650 50.5 660 C51 670 48 677 41 677.5 C34 678 31 670 30 660 C29 652 28 646 27.5 640 Z" fill="#f1d7e5" stroke="#c48ab0" stroke-width="0.6"/>
<path d="M43.5 637 C42 633 45 631 47 632 C47 628 49 626 52 627 C53 624 57 623 59 625 C62 623 66 624 66.5 627 C68 630 66 632 67 635 C68 638 66 641 65 642 C66 645 64 648 63 649 C64 652 62 655 59 655.5 C57 658 53 659 51 657 C48 658 45 656 45.5 653 C43 651 43 648 44.5 646 C42.5 643 42.5 640 43.5 637 Z" fill="#c9eef1" stroke="#6bb4c0" stroke-width="0.6"/>
<path d="M51 643 C54 641 58 642 60 644.5 C61 647 59 650 57 650" fill="none" stroke="#6bb4c0" stroke-width="0.5"/>
<path d="M49 633 C52 631 56 631.5 58 634" fill="none" stroke="#6bb4c0" stroke-width="0.5"/>
<path d="M67 618 C70 612 78 610 84 614 C89 620 91 632 89 640 C87 646 80 647 73 646 C68 645 66 638 66.5 630 C66.7 625 66 622 67 618 Z" fill="#c3c8e2" stroke="#6f7db0" stroke-width="0.6"/>
<ellipse cx="61" cy="618.3" rx="5.6" ry="4" fill="#ecd3f6" stroke="#b173d2" stroke-width="0.5"/>
<ellipse cx="41" cy="644" rx="5" ry="3.8" fill="#dfeefa" stroke="#4f7fbf" stroke-width="0.5"/>
<path d="M106 605 C106 601 111 600 114 602 C117 604 116 610 117 614 C118 617 123 618 123 623 C123 628 118 630 112 629.5 C107 629 104 626 105.5 620 C106.5 615 106 609 106 605 Z" fill="#f6f1c4" stroke="#c9c07a" stroke-width="0.6"/>
<line x1="86.6" y1="625.8" x2="101.5" y2="621" stroke="#111" stroke-width="2.6"/>
<line x1="101.8" y1="613.7" x2="103.8" y2="627.5" stroke="#111" stroke-width="2.8"/>
<path d="M42 675 C40 660 45 640 56 627 C62 621 70 617 78 622 C82 626 84 634 82 641" fill="none" stroke="#666" stroke-width="0.5"/>
<text x="37.7" y="655" font-size="4.5" font-weight="bold" font-style="normal" text-anchor="start" fill="#222">I</text>
<text x="52.5" y="649.5" font-size="4.5" font-weight="bold" font-style="normal" text-anchor="start" fill="#222">III</text>
<text x="59.8" y="641.3" font-size="4.5" font-weight="bold" font-style="normal" text-anchor="start" fill="#222">III</text>
<text x="76.5" y="632.5" font-size="5" font-weight="bold" font-style="normal" text-anchor="start" fill="#222">IV</text>
<text x="114.3" y="624.5" font-size="4.6" font-weight="bold" font-style="normal" text-anchor="middle" fill="#222">V</text>
<text x="61" y="619.8" font-size="2.8" font-weight="bold" font-style="normal" text-anchor="middle" fill="#333">CytC</text>
<text x="41" y="645.5" font-size="2.8" font-weight="bold" font-style="normal" text-anchor="middle" fill="#333">CoQ</text>
<circle cx="83" cy="652" r="1.8" fill="#f6efc8" stroke="#c8bf88" stroke-width="0.4"/>
<text x="80.5" y="665.5" font-size="4.6" fill="#777">O<tspan font-size="3" dy="1">2</tspan></text>
<text x="91" y="661.5" font-size="4.6" fill="#777" transform="rotate(-12 91 661.5)">H<tspan font-size="3" dy="1">2</tspan><tspan dy="-1">O</tspan></text>
<path d="M82 660.5 C84 657 88 656 92 656.5" fill="none" stroke="#888" stroke-width="0.45"/>
<text x="110" y="647.5" font-size="5" font-weight="bold" font-style="normal" text-anchor="start" fill="#8ac48f">ADP</text>
<text x="123.5" y="645.5" font-size="5" font-weight="bold" font-style="normal" text-anchor="start" fill="#6bb872">ATP</text>
<path d="M112 640 C113 634 118 631 123 636" fill="none" stroke="#8ac48f" stroke-width="0.5"/>
<text x="35" y="688" font-size="4.6" font-weight="bold" fill="#e9857f" transform="rotate(-15 35 688)">NADH  NAD<tspan font-size="3" dy="-1.5">+</tspan></text>
<circle cx="41" cy="671" r="2" fill="#f6efc8" stroke="#c8bf88" stroke-width="0.4"/>
<rect x="72.1" y="449.2" width="40.70" height="12.70" rx="1.8" fill="#dce9f8" stroke="#4d79ad" stroke-width="0.9"/>
<g transform="translate(92.60 457.8) scale(1 1.18) translate(-92.60 -457.8)">
<text x="92.6" y="457.8" font-size="5.88" font-weight="bold" font-style="normal" text-anchor="middle" fill="#151515" stroke="#151515" stroke-width="0.12">Glucose</text>
</g>
<rect x="72.1" y="483.4" width="40.70" height="12.20" rx="1.8" fill="#dce9f8" stroke="#4d79ad" stroke-width="0.9"/>
<g transform="translate(92.60 492) scale(1 1.18) translate(-92.60 -492)">
<text x="92.6" y="492" font-size="5.88" font-weight="bold" font-style="normal" text-anchor="middle" fill="#151515" stroke="#151515" stroke-width="0.12">Glucose</text>
</g>
<rect x="72.4" y="560" width="40.00" height="11.50" rx="1.8" fill="#dce9f8" stroke="#4d79ad" stroke-width="0.9"/>
<g transform="translate(92.70 567.7) scale(1 1.18) translate(-92.70 -567.7)">
<text x="92.7" y="567.7" font-size="5.87" font-weight="bold" font-style="normal" text-anchor="middle" fill="#151515" stroke="#151515" stroke-width="0.12">Pyruvate</text>
</g>
<rect x="5.3" y="559.8" width="40.60" height="12.10" rx="1.8" fill="#dce9f8" stroke="#4d79ad" stroke-width="0.9"/>
<g transform="translate(26.00 568) scale(1 1.18) translate(-26.00 -568)">
<text x="26.0" y="568" font-size="6.17" font-weight="bold" font-style="normal" text-anchor="middle" fill="#151515" stroke="#151515" stroke-width="0.12">Lactate</text>
</g>
<rect x="148.2" y="507.2" width="31.50" height="12.00" rx="1.8" fill="#dce9f8" stroke="#4d79ad" stroke-width="0.9"/>
<g transform="translate(164.45 515.6) scale(1 1.18) translate(-164.45 -515.6)">
<text x="164.45" y="515.6" font-size="5.99" font-weight="bold" font-style="normal" text-anchor="middle" fill="#151515" stroke="#151515" stroke-width="0.12">OAA</text>
</g>
<rect x="148.2" y="548" width="31.50" height="11.30" rx="1.8" fill="#dce9f8" stroke="#4d79ad" stroke-width="0.9"/>
<g transform="translate(163.90 556) scale(1 1.18) translate(-163.90 -556)">
<text x="163.9" y="556" font-size="6.17" font-weight="bold" font-style="normal" text-anchor="middle" fill="#151515" stroke="#151515" stroke-width="0.12">Malate</text>
</g>
<rect x="280.7" y="507.3" width="40.40" height="12.10" rx="1.8" fill="#dce9f8" stroke="#4d79ad" stroke-width="0.9"/>
<g transform="translate(300.70 515.8) scale(1 1.18) translate(-300.70 -515.8)">
<text x="300.7" y="515.8" font-size="6.07" font-weight="bold" font-style="normal" text-anchor="middle" fill="#151515" stroke="#151515" stroke-width="0.12">Aspartate</text>
</g>
<rect x="307.8" y="448.9" width="40.70" height="11.70" rx="1.8" fill="#dce9f8" stroke="#4d79ad" stroke-width="0.9"/>
<g transform="translate(328.45 457) scale(1 1.18) translate(-328.45 -457)">
<text x="328.45" y="457" font-size="6.07" font-weight="bold" font-style="normal" text-anchor="middle" fill="#151515" stroke="#151515" stroke-width="0.12">Glutamine</text>
</g>
<rect x="308.3" y="551.4" width="40.40" height="11.70" rx="1.8" fill="#dce9f8" stroke="#4d79ad" stroke-width="0.9"/>
<g transform="translate(328.95 559.6) scale(1 1.18) translate(-328.95 -559.6)">
<text x="328.95" y="559.6" font-size="6.16" font-weight="bold" font-style="normal" text-anchor="middle" fill="#151515" stroke="#151515" stroke-width="0.12">Glutamate</text>
</g>
<rect x="201.3" y="551" width="32.50" height="11.80" rx="1.8" fill="#dce9f8" stroke="#4d79ad" stroke-width="0.9"/>
<g transform="translate(218.10 559.4) scale(1 1.18) translate(-218.10 -559.4)">
<text x="218.1" y="559.4" font-size="5.8" font-weight="bold" font-style="normal" text-anchor="middle" fill="#151515" stroke="#151515" stroke-width="0.12">&#945;-KG</text>
</g>
<rect x="205.8" y="615.5" width="29.20" height="11.50" rx="1.8" fill="#dce9f8" stroke="#4d79ad" stroke-width="0.9"/>
<g transform="translate(220.10 623.8) scale(1 1.18) translate(-220.10 -623.8)">
<text x="220.1" y="623.8" font-size="5.94" font-weight="bold" font-style="normal" text-anchor="middle" fill="#151515" stroke="#151515" stroke-width="0.12">AcCoA</text>
</g>
<rect x="257.6" y="630.2" width="28.00" height="13.10" rx="1.8" fill="#dce9f8" stroke="#4d79ad" stroke-width="0.9"/>
<text x="271.5" y="639.9" font-size="8.58" font-weight="bold" font-style="normal" text-anchor="middle" fill="#151515" stroke="#151515" stroke-width="0.15">Asp</text>
<rect x="207.4" y="646.6" width="34.90" height="13.20" rx="1.8" fill="#dce9f8" stroke="#4d79ad" stroke-width="0.9"/>
<text x="225.35" y="656.4" font-size="7.25" font-weight="bold" font-style="normal" text-anchor="middle" fill="#151515" stroke="#151515" stroke-width="0.15">OAA</text>
<rect x="290.5" y="654" width="27.70" height="13.00" rx="1.8" fill="#dce9f8" stroke="#4d79ad" stroke-width="0.9"/>
<text x="304.3" y="663.8" font-size="8.76" font-weight="bold" font-style="normal" text-anchor="middle" fill="#151515" stroke="#151515" stroke-width="0.15">Glu</text>
<rect x="167.6" y="678.2" width="26.70" height="12.80" rx="1.8" fill="#dce9f8" stroke="#4d79ad" stroke-width="0.9"/>
<text x="181.25" y="687.5" font-size="8.34" font-weight="bold" font-style="normal" text-anchor="middle" fill="#151515" stroke="#151515" stroke-width="0.15">Mal</text>
<rect x="239.5" y="686.2" width="27.10" height="13.10" rx="1.8" fill="#dce9f8" stroke="#4d79ad" stroke-width="0.9"/>
<text x="252.9" y="695.6" font-size="7.44" font-weight="bold" font-style="normal" text-anchor="middle" fill="#151515" stroke="#151515" stroke-width="0.15">&#945;-KG</text>
<rect x="200.3" y="715.2" width="27.60" height="13.20" rx="1.8" fill="#dce9f8" stroke="#4d79ad" stroke-width="0.9"/>
<text x="214.4" y="724.9" font-size="7.53" font-weight="bold" font-style="normal" text-anchor="middle" fill="#151515" stroke="#151515" stroke-width="0.15">Succ</text>
<text x="102.6" y="505.2" font-size="6.82" font-weight="bold" font-style="normal" text-anchor="start" fill="#1e8c2c">ADP</text>
<text x="102.6" y="514.5" font-size="6.7" font-weight="bold" fill="#e8202c">NAD<tspan font-size="4.5" dy="-2.5">+</tspan></text>
<text x="102.6" y="537.9" font-size="6.96" font-weight="bold" font-style="normal" text-anchor="start" fill="#1e8c2c">ATP</text>
<text x="102.6" y="546.9" font-size="6.68" font-weight="bold" font-style="normal" text-anchor="start" fill="#e8202c">NADH</text>
<text x="50" y="559" font-size="6.3" font-weight="bold" font-style="normal" text-anchor="start" fill="#8a2d8c">LDHA</text>
<text x="41.8" y="580" font-size="5.3" font-weight="bold" fill="#e8202c">NAD<tspan font-size="3.6" dy="-2">+</tspan></text>
<text x="61" y="580" font-size="5.57" font-weight="bold" font-style="normal" text-anchor="start" fill="#e8202c">NADH</text>
<text x="127.8" y="529" font-size="7.06" font-weight="bold" font-style="normal" text-anchor="start" fill="#e8202c">NADH</text>
<text x="130.6" y="545.8" font-size="7" font-weight="bold" fill="#e8202c">NAD<tspan font-size="4.7" dy="-2.6">+</tspan></text>
<text x="167.4" y="534.2" font-size="6.71" font-weight="bold" font-style="normal" text-anchor="start" fill="#8a2d8c">MDH1</text>
<text x="177.6" y="620.5" font-size="6.39" font-weight="bold" font-style="normal" text-anchor="start" fill="#8a2d8c">PDH</text>
<text x="167.4" y="637.7" font-size="5.6" font-weight="bold" fill="#e8202c">NAD<tspan font-size="3.8" dy="-2">+</tspan></text>
<text x="186.5" y="637.7" font-size="5.47" font-weight="bold" font-style="normal" text-anchor="start" fill="#e8202c">NADH</text>
<text x="172.2" y="649.8" font-size="5.82" font-weight="bold" font-style="normal" text-anchor="start" fill="#e8202c">NADH</text>
<text x="162.5" y="667" font-size="5.6" font-weight="bold" fill="#e8202c">NAD<tspan font-size="3.8" dy="-2">+</tspan></text>
<text x="190.7" y="669.6" font-size="6.46" font-weight="bold" font-style="normal" text-anchor="start" fill="#8a2d8c">MDH2</text>
<text x="225.8" y="708" font-size="6.13" font-weight="bold" font-style="normal" text-anchor="start" fill="#8a2d8c">OGDH</text>
<text x="258.5" y="710" font-size="5.6" font-weight="bold" fill="#e8202c">NAD<tspan font-size="3.8" dy="-2">+</tspan></text>
<text x="245.7" y="724.8" font-size="5.5" font-weight="bold" font-style="normal" text-anchor="start" fill="#e8202c">NADH</text>
<text x="217.65" y="685" font-size="7.93" font-weight="bold" font-style="normal" text-anchor="middle" fill="#222">TCA</text>
<text x="217.7" y="693.5" font-size="7.72" font-weight="bold" font-style="normal" text-anchor="middle" fill="#222">Cycle</text>
<text x="7.3" y="500" font-size="5.37" font-weight="bold" font-style="normal" text-anchor="start" fill="#222">Cytosol</text>
<text x="351.8" y="683.5" font-size="5.82" font-weight="bold" font-style="normal" text-anchor="start" fill="#222">Mito Matrix</text>
<text x="5.5" y="483" font-size="5.6" font-weight="bold" fill="#2a2a3a" transform="rotate(-8.5 5.5 483)">Plasma membrane</text>
<text x="367.5" y="624.5" font-size="5.3" font-style="italic" font-weight="bold" fill="#222" transform="rotate(31 367.5 624.5)">OMM</text>
<text x="331.5" y="620.5" font-size="5.65" font-weight="bold" fill="#222" transform="rotate(28 331.5 620.5)">Intermembrane space</text>
<text x="370" y="657" font-size="5.3" font-style="italic" font-weight="bold" fill="#222" transform="rotate(34 370 657)">IMM</text>
<text x="11" y="748.3" font-size="11.92" font-weight="normal" font-style="normal" text-anchor="start" fill="#111">Created using BioRender.com</text>
<line x1="47.15" y1="159.6" x2="312.3" y2="159.6" stroke="#000" stroke-width="1.7"/>
<line x1="369.95" y1="161" x2="634.4" y2="161" stroke="#000" stroke-width="1.7"/>
<line x1="49.15" y1="368.6" x2="312.4" y2="368.6" stroke="#000" stroke-width="1.7"/>
<line x1="379.15" y1="368" x2="485" y2="368" stroke="#000" stroke-width="1.7"/>
<line x1="547.15" y1="368.6" x2="651.8" y2="368.6" stroke="#000" stroke-width="1.7"/>
<line x1="563.75" y1="556.4" x2="635.4" y2="556.4" stroke="#000" stroke-width="1.7"/>
<line x1="434.15" y1="757" x2="517.6" y2="757" stroke="#000" stroke-width="1.7"/>
<line x1="569.85" y1="757.7" x2="652.8" y2="757.7" stroke="#000" stroke-width="1.7"/>
</svg>
</body></html>
